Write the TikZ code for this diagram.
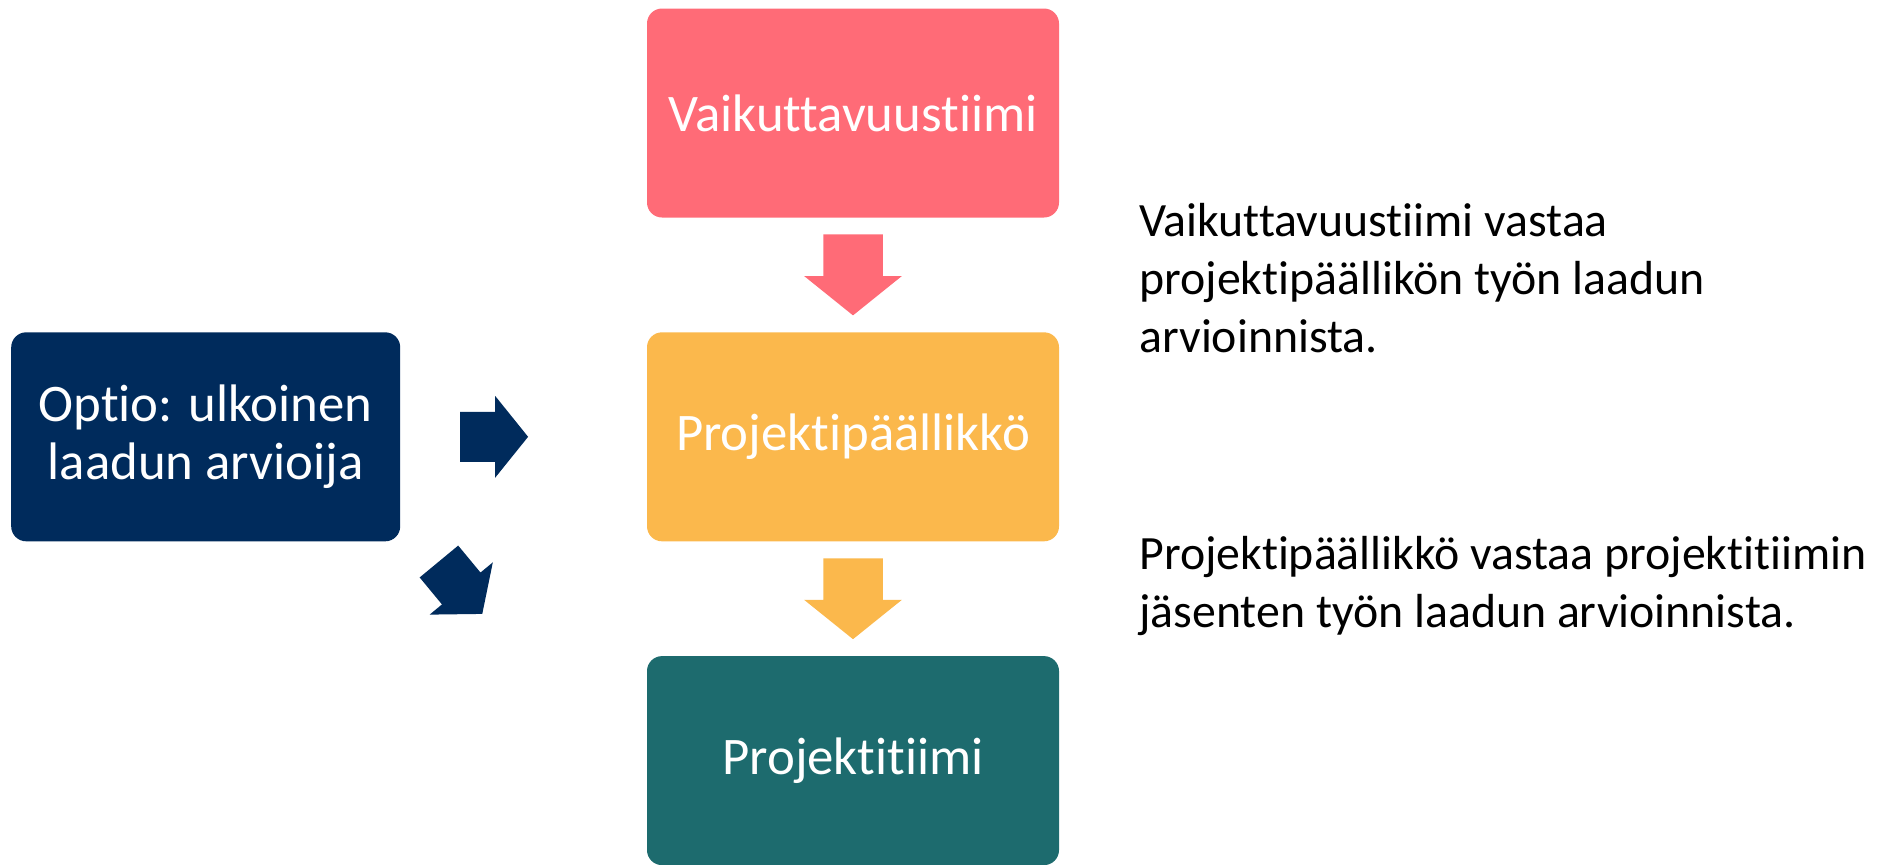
\documentclass[tikz,border=0pt]{standalone}
\usepackage{fontspec}
\setmainfont{Carlito}[Ligatures=NoCommon]
\usetikzlibrary{positioning,calc}

\definecolor{pinkc}{HTML}{FF6B77}
\definecolor{orangec}{HTML}{FBB84C}
\definecolor{tealc}{HTML}{1D6B6E}
\definecolor{navyc}{HTML}{002B5C}

\begin{document}
\begin{tikzpicture}[x=0.5pt, y=-0.5pt, node distance={57pt},
    box/.style = {rectangle, rounded corners=7.5pt, minimum width=206pt, minimum height=104.5pt, inner sep=0pt, text=white, align=center, font=\fontsize{26.4}{29}\selectfont},
    note/.style = {anchor=north west, align=left, inner sep=0pt, font=\fontsize{23.9}{29}\selectfont},
    blockarrow/.pic = {\fill (-34,-25) -- (1,-25) -- (1,-41) -- (34,0) -- (1,41) -- (1,25) -- (-34,25) -- cycle;}]
    \useasboundingbox (0,0) rectangle (1884,864);
    \node[box, fill=pinkc] (vt) at (853,113) {Vaikuttavuustiimi};
    \node[box, fill=orangec] (pp) [below=of vt] {Projektipäällikkö};
    \node[box, fill=tealc] (pt) [below=of pp] {Projektitiimi};
    \node[box, fill=navyc, minimum width=194.5pt] (op) [left=123pt of pp] {Optio: ulkoinen\\laadun arvioija};
    \node[note] (n1) at (1139,203) {Vaikuttavuustiimi vastaa\\projektipäällikön työn laadun\\arvioinnista.};
    \node[note] (n2) at (1139,536) {Projektipäällikkö vastaa projektitiimin\\jäsenten työn laadun arvioinnista.};
    % block arrows between the boxes
    \path ($(vt.south)!0.5!(pp.north)$) pic[pinkc, scale=1.19, rotate=-90] {blockarrow};
    \path ($(pp.south)!0.5!(pt.north)$) pic[orangec, scale=1.19, rotate=-90] {blockarrow};
    \path ($(op.east)!0.38!(pp.west)$) pic[navyc] {blockarrow};
    \path ($(op.south east)+(60,46)$) pic[navyc, rotate=-50.4] {blockarrow};
\end{tikzpicture}
\end{document}
